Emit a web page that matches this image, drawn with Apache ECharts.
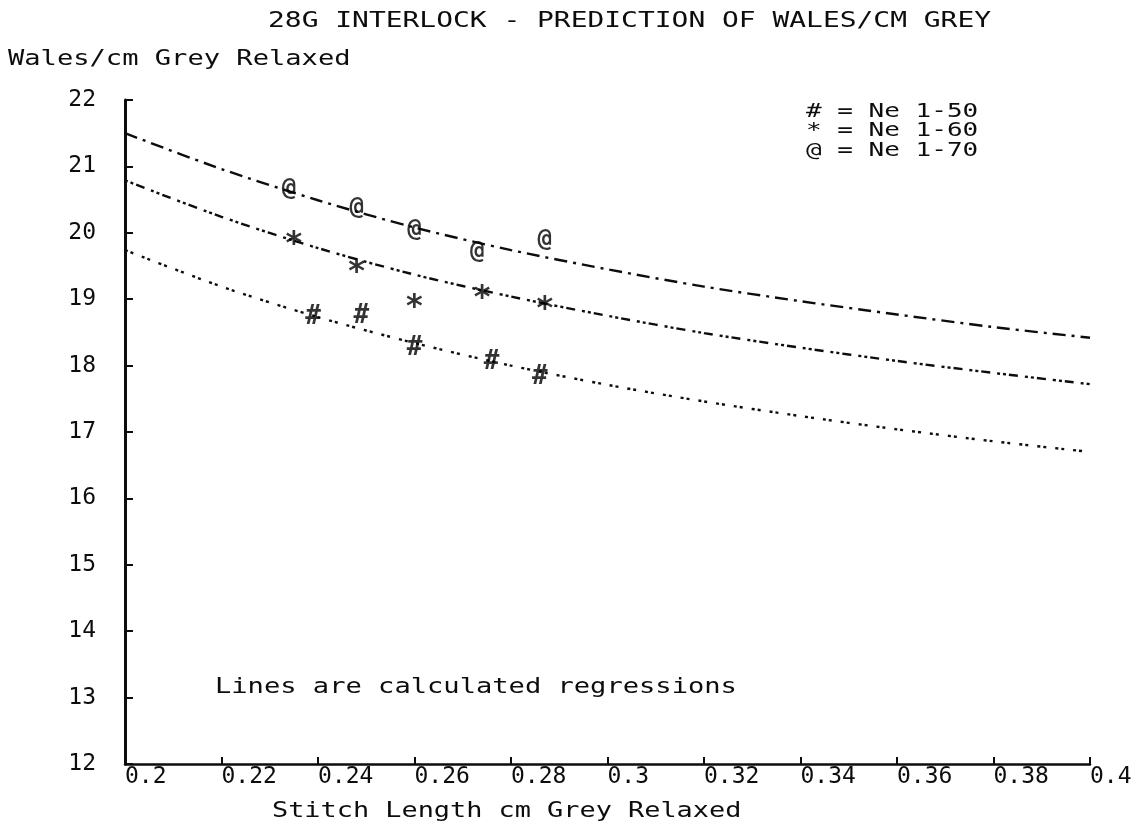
<!DOCTYPE html>
<html lang="en">
<head>
    <meta charset="UTF-8">
    <title>28G Interlock - Prediction of Wales/cm Grey</title>
    <script src="https://cdn.jsdelivr.net/npm/echarts@6/dist/echarts.min.js"></script>
</head>
<body style="margin:0;background:#fff">
<div id="chart" style="width:1136px;height:832px"></div>
<script>
    // regression lines at every 0.02
    var regX  = [0.2, 0.22, 0.24, 0.26, 0.28, 0.3, 0.32, 0.34, 0.36, 0.38, 0.4];
    var reg70 = [21.50, 20.96, 20.49, 20.08, 19.74, 19.45, 19.19, 18.97, 18.77, 18.58, 18.42];
    var reg60 = [20.79, 20.24, 19.77, 19.37, 19.04, 18.75, 18.49, 18.27, 18.07, 17.89, 17.72];
    var reg50 = [19.74, 19.19, 18.73, 18.34, 18.00, 17.71, 17.46, 17.24, 17.04, 16.86, 16.70];

    // measured points
    var pts70X = [0.234, 0.248, 0.260, 0.273, 0.287];
    var pts70Y = [20.66, 20.37, 20.05, 19.72, 19.89];
    var pts60X = [0.235, 0.248, 0.260, 0.274, 0.287];
    var pts60Y = [19.93, 19.51, 18.98, 19.11, 18.95];
    var pts50X = [0.239, 0.249, 0.260, 0.276, 0.286];
    var pts50Y = [18.73, 18.74, 18.26, 18.05, 17.83];

    var yTicks = [12, 13, 14, 15, 16, 17, 18, 19, 20, 21, 22];

    var MONO = '"DejaVu Sans Mono", "Liberation Mono", monospace';
    var INK = '#0d0d0d';

    function pairs(xs, ys) {
        return xs.map(function (x, i) { return [x, ys[i]]; });
    }

    function regLine(name, ys, dash) {
        return {
            name: name,
            type: 'line',
            data: pairs(regX, ys),
            smooth: 0.3,
            symbol: 'none',
            silent: true,
            lineStyle: {color: INK, width: 2.4, type: dash}
        };
    }

    function marks(name, xs, ys, ch, size, off) {
        return {
            name: name,
            type: 'scatter',
            data: pairs(xs, ys),
            symbol: 'circle',
            symbolSize: 2,
            itemStyle: {color: 'rgba(0,0,0,0)'},
            label: {
                show: true,
                position: 'inside',
                formatter: ch,
                offset: off,
                fontFamily: MONO,
                fontSize: size,
                fontWeight: 'bold',
                color: '#000'
            },
            z: 5
        };
    }

    // plotter style text, stretched sideways
    function txt(text, x, y, sx, size) {
        return {
            type: 'text',
            x: x,
            y: y,
            scaleX: sx,
            z: 10,
            style: {
                text: text,
                fill: INK,
                font: size + 'px ' + MONO,
                verticalAlign: 'middle',
                align: 'left'
            }
        };
    }

    var _chart = echarts.init(document.getElementById('chart'));

    var option = {
        animation: false,
        grid: {left: 125, right: 46, top: 100, bottom: 68},
        xAxis: {
            type: 'value',
            min: 0.2,
            max: 0.4,
            interval: 0.02,
            axisLine: {lineStyle: {color: INK, width: 2.5}},
            axisTick: {inside: true, length: 7, lineStyle: {color: INK, width: 2}},
            splitLine: {show: false},
            axisLabel: {
                margin: 2,
                align: 'left',
                padding: [0, 0, 0, 0],
                color: INK,
                fontFamily: MONO,
                fontSize: 23,
                formatter: function (v) { return String(+v.toFixed(2)); }
            }
        },
        yAxis: {
            type: 'value',
            min: yTicks[0],
            max: yTicks[yTicks.length - 1],
            interval: 1,
            axisLine: {show: true, lineStyle: {color: INK, width: 3}},
            axisTick: {show: true, inside: true, length: 8, lineStyle: {color: INK, width: 2}},
            splitLine: {show: false},
            axisLabel: {margin: 29, color: INK, fontFamily: MONO, fontSize: 23}
        },
        graphic: [
            txt('28G INTERLOCK - PREDICTION OF WALES/CM GREY', 268, 22, 1.33, 21),
            txt('Wales/cm Grey Relaxed', 8, 60, 1.29, 21),
            txt('Stitch Length cm Grey Relaxed', 272, 812, 1.28, 21),
            txt('Lines are calculated regressions', 215, 688, 1.29, 21),
            txt('# = Ne 1-50', 806, 112, 1.3, 20),
            txt('* = Ne 1-60', 806, 131, 1.3, 20),
            txt('@ = Ne 1-70', 806, 151, 1.3, 20)
        ],
        series: [
            regLine('Ne 1-70 regression', reg70, [13, 6, 3, 6]),
            regLine('Ne 1-60 regression', reg60, [3, 3, 3, 3, 9, 7]),
            regLine('Ne 1-50 regression', reg50, [3, 3, 3, 9]),
            marks('Ne 1-70', pts70X, pts70Y, '@', 24, [0, 0]),
            marks('Ne 1-60', pts60X, pts60Y, '*', 32, [0, 7]),
            marks('Ne 1-50', pts50X, pts50Y, '#', 26, [0, 0])
        ]
    };
    _chart.setOption(option, true);
</script>
</body>
</html>
